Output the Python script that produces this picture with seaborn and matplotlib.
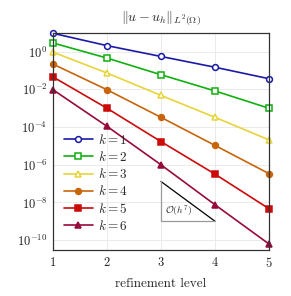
import numpy as np
import matplotlib
matplotlib.use("Agg")
import matplotlib.pyplot as plt
import matplotlib.ticker as mticker
import seaborn as sns
import pandas as pd

levels = [1, 2, 3, 4, 5]
err_k1 = [9.5, 2.1, 0.56, 0.15, 0.037]
err_k2 = [2.9, 0.46, 0.06, 0.0083, 0.001]
err_k3 = [0.95, 0.074, 0.0048, 3.3e-4, 2.1e-5]
err_k4 = [0.22, 0.0096, 3.3e-4, 1.07e-5, 3.4e-7]
err_k5 = [0.046, 1.0e-3, 1.7e-5, 3.2e-7, 4.7e-9]
err_k6 = [0.0096, 1.1e-4, 1.0e-6, 7.6e-9, 6.3e-11]
labels = ["$k=1$", "$k=2$", "$k=3$", "$k=4$", "$k=5$", "$k=6$"]
series = [err_k1, err_k2, err_k3, err_k4, err_k5, err_k6]
colors = ["#1a1aa6", "#10b010", "#e8d43a", "#c8640a", "#cc0a0a", "#960a3c"]
markers = ["o", "s", "^", "o", "s", "^"]
filled = [False, False, False, True, True, True]

sns.set_theme(style="white")
plt.rcParams["font.family"] = ["cmr10", "DejaVu Serif"]
plt.rcParams["mathtext.fontset"] = "cm"
plt.rcParams["axes.formatter.use_mathtext"] = True

df = pd.DataFrame({
    "level": levels * len(series),
    "err": [v for s in series for v in s],
    "k": [lab for lab in labels for _ in levels],
})

fig = plt.figure(figsize=(2.91, 2.96), dpi=100)
ax = fig.add_axes([0.182, 0.155, 0.742, 0.734])

for lab, col, mk, fl in zip(labels, colors, markers, filled):
    sub = df[df["k"] == lab]
    sns.lineplot(data=sub, x="level", y="err", ax=ax, color=col, marker=mk,
                 markersize=4.2 if mk != "^" else 4.6, linewidth=1.2,
                 markerfacecolor=col if fl else "white",
                 markeredgecolor=col, markeredgewidth=1.1, label=lab, clip_on=False)

ax.set_yscale("log")
ax.set_xlim(1, 5)
ax.set_ylim(10 ** -10.53, 10 ** 1.0)
ax.set_xticks(levels)
ax.yaxis.set_major_locator(mticker.FixedLocator([10.0 ** e for e in range(-10, 1, 2)]))
ax.yaxis.set_minor_locator(mticker.NullLocator())
ax.grid(True, color="#e8e8e8", linewidth=0.6)
ax.set_axisbelow(True)
for sp in ax.spines.values():
    sp.set_color("#333333")
    sp.set_linewidth(0.9)
ax.tick_params(axis="both", labelsize=9, colors="#222222", length=3, direction="in",
               pad=4)
ax.set_xlabel("refinement level", fontsize=9.5, labelpad=6)
ax.set_ylabel("")
ax.set_title(r"$\|u-u_h\|_{L^2(\Omega)}$", fontsize=10, pad=9)

# slope triangle
tx = [3, 4]
ty_top = 1.3e-7
ty_bot = ty_top / 2 ** 7
ax.plot(tx, [ty_top, ty_bot], color="black", linewidth=0.9)
ax.plot([3, 3, 4], [ty_top, ty_bot, ty_bot], color="#999999", linewidth=0.9)
ax.text(3.07, ty_bot * 3.5, r"$\mathcal{O}(h^7)$", fontsize=7, va="center", ha="left")

leg = ax.legend(loc="lower left", bbox_to_anchor=(0.0, 0.03), frameon=False,
                fontsize=9.5, handlelength=2.2, labelspacing=0.25, borderpad=0.3,
                handletextpad=0.4)

fig.savefig("out.png", dpi=100)
